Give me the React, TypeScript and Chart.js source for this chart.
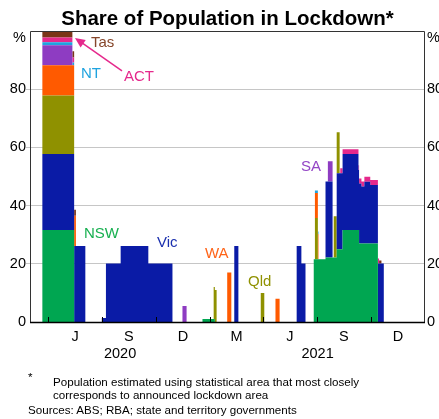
import React, { useEffect, useRef } from 'react';
import { Chart, registerables } from 'chart.js';

Chart.register(...registerables);

const FONT = "'Liberation Sans', Arial, Helvetica, sans-serif";

type Period = [string, string, number]; // [start, end (exclusive), % of national population]

const STATE_NAMES = ['NSW', 'Vic', 'Qld', 'WA', 'SA', 'NT', 'ACT', 'Tas'];
const STATE_COLORS = ['#00A651', '#0A1BA6', '#8F9100', '#FF5A00', '#8E3CC2', '#1FA3DF', '#E5298C', '#7A3517'];
const LABEL_COLORS = ['#17B050', '#1A2FAE', '#8F9100', '#FF6418', '#9446C6', '#1FA3DF', '#E5298C', '#86462A'];

const NSW_PERIODS: Period[] = [
  ['2020-03-22', '2020-05-15', 31.6],
  ['2020-12-19', '2021-01-09', 1.0],
  ['2021-06-26', '2021-07-16', 21.6],
  ['2021-07-16', '2021-08-04', 22.2],
  ['2021-08-04', '2021-08-14', 25.0],
  ['2021-08-14', '2021-09-11', 31.6],
  ['2021-09-11', '2021-10-13', 27.0],
];
const VIC_PERIODS: Period[] = [
  ['2020-03-22', '2020-06-03', 26.1],
  ['2020-07-01', '2020-07-08', 1.4],
  ['2020-07-08', '2020-08-02', 20.1],
  ['2020-08-02', '2020-09-18', 26.1],
  ['2020-09-18', '2020-10-29', 20.1],
  ['2021-02-11', '2021-02-18', 26.1],
  ['2021-05-28', '2021-06-05', 26.1],
  ['2021-06-05', '2021-06-12', 20.1],
  ['2021-07-16', '2021-07-28', 26.1],
  ['2021-08-04', '2021-09-10', 26.1],
  ['2021-09-10', '2021-09-15', 20.6],
  ['2021-09-15', '2021-09-20', 19.6],
  ['2021-09-20', '2021-09-30', 21.2],
  ['2021-09-30', '2021-10-23', 20.1],
];
const QLD_PERIODS: Period[] = [
  ['2020-03-22', '2020-05-15', 20.1],
  ['2021-01-07', '2021-01-12', 11.0],
  ['2021-03-28', '2021-04-03', 10.0],
  ['2021-06-28', '2021-07-03', 14.1],
  ['2021-07-30', '2021-08-09', 14.1],
];
const WA_PERIODS: Period[] = [
  ['2020-03-22', '2020-05-18', 10.4],
  ['2021-01-30', '2021-02-06', 17.0],
  ['2021-04-22', '2021-04-29', 8.0],
  ['2021-06-28', '2021-07-04', 8.6],
];
const SA_PERIODS: Period[] = [
  ['2020-03-22', '2020-05-12', 6.9],
  ['2020-11-15', '2020-11-22', 5.5],
  ['2021-07-20', '2021-07-28', 6.9],
];
const NT_PERIODS: Period[] = [
  ['2020-03-22', '2020-05-15', 1.0],
  ['2021-06-28', '2021-07-04', 0.9],
];
const ACT_PERIODS: Period[] = [
  ['2020-03-22', '2020-05-15', 1.7],
  ['2021-08-10', '2021-10-15', 1.7],
];
const TAS_PERIODS: Period[] = [
  ['2020-03-22', '2020-05-18', 2.1],
  ['2021-10-15', '2021-10-19', 1.0],
];

const ALL_PERIODS = [NSW_PERIODS, VIC_PERIODS, QLD_PERIODS, WA_PERIODS, SA_PERIODS, NT_PERIODS, ACT_PERIODS, TAS_PERIODS];

const AXIS_START = '2020-03-01';
const AXIS_END = '2022-01-01';
const QUARTER_BOUNDS = ['2020-04-01', '2020-07-01', '2020-10-01', '2021-01-01', '2021-04-01', '2021-07-01', '2021-10-01', '2022-01-01'];
const QUARTER_LABELS = ['J', 'S', 'D', 'M', 'J', 'S', 'D'];
const YEAR_STARTS = ['2020-03-01', '2021-01-01', '2022-01-01'];
const YEAR_LABELS = ['2020', '2021'];
const Y_TICKS = [0, 20, 40, 60, 80, 100];

const BASE = Date.UTC(2020, 0, 1);
const dayOf = (s: string) => {
  const [y, m, d] = s.split('-').map(Number);
  return Math.round((Date.UTC(y, m - 1, d) - BASE) / 86400000);
};

const X_MIN = dayOf(AXIS_START);
const X_MAX = dayOf(AXIS_END);

function valueAt(periods: Period[], x: number) {
  let v = 0;
  for (const [s, e, val] of periods) {
    if (x >= dayOf(s) && x < dayOf(e)) v += val;
  }
  return v;
}

const ANNOTATIONS: [string, number, number, string][] = [
  ['Tas', 163.6, 96.0, LABEL_COLORS[7]],
  ['NT', 146.6, 85.2, LABEL_COLORS[5]],
  ['ACT', 219.7, 84.4, LABEL_COLORS[6]],
  ['NSW', 151.7, 30.4, LABEL_COLORS[0]],
  ['Vic', 275.7, 27.1, LABEL_COLORS[1]],
  ['WA', 357.3, 23.4, LABEL_COLORS[3]],
  ['Qld', 430.3, 13.7, LABEL_COLORS[2]],
  ['SA', 520.3, 53.4, LABEL_COLORS[4]],
];

const decorPlugin = {
  id: 'decor',
  afterDatasetsDraw(chart: any) {
    const { ctx, chartArea: a, scales } = chart;
    const xs = scales.x;
    const ys = scales.y;
    ctx.save();
    ctx.strokeStyle = '#000';
    ctx.lineWidth = 1;
    QUARTER_BOUNDS.slice(0, -1).forEach((d) => {
      const px = Math.round(xs.getPixelForValue(dayOf(d))) + 0.5;
      ctx.beginPath();
      ctx.moveTo(px, a.bottom);
      ctx.lineTo(px, a.bottom - 5);
      ctx.stroke();
    });
    ctx.strokeStyle = '#333';
    ctx.lineWidth = 1;
    ctx.beginPath();
    ctx.moveTo(a.left + 0.5, a.bottom);
    ctx.lineTo(a.left + 0.5, a.top + 0.5);
    ctx.lineTo(a.right - 0.5, a.top + 0.5);
    ctx.lineTo(a.right - 0.5, a.bottom);
    ctx.stroke();
    ctx.strokeStyle = '#000';
    ctx.lineWidth = 1.5;
    ctx.beginPath();
    ctx.moveTo(a.left, a.bottom + 0.5);
    ctx.lineTo(a.right, a.bottom + 0.5);
    ctx.stroke();
    ctx.fillStyle = '#000';
    ctx.font = `14.5px ${FONT}`;
    ctx.textBaseline = 'middle';
    ctx.textAlign = 'right';
    ctx.fillText('%', a.left - 4, a.top + 7);
    ctx.textAlign = 'left';
    ctx.fillText('%', a.right + 2, a.top + 7);
    ctx.font = `15px ${FONT}`;
    ANNOTATIONS.forEach(([t, d, v, c]) => {
      ctx.fillStyle = c;
      ctx.fillText(t, xs.getPixelForValue(d), ys.getPixelForValue(v));
    });
    const x1 = xs.getPixelForValue(216.3), y1 = ys.getPixelForValue(86.3);
    const x2 = xs.getPixelForValue(136.4), y2 = ys.getPixelForValue(97.6);
    const ang = Math.atan2(y2 - y1, x2 - x1);
    ctx.strokeStyle = LABEL_COLORS[6];
    ctx.fillStyle = LABEL_COLORS[6];
    ctx.lineWidth = 1.5;
    ctx.beginPath();
    ctx.moveTo(x1, y1);
    ctx.lineTo(x2 - 6 * Math.cos(ang), y2 - 6 * Math.sin(ang));
    ctx.stroke();
    ctx.beginPath();
    ctx.moveTo(x2, y2);
    ctx.lineTo(x2 - 10 * Math.cos(ang) + 4.5 * Math.sin(ang), y2 - 10 * Math.sin(ang) - 4.5 * Math.cos(ang));
    ctx.lineTo(x2 - 10 * Math.cos(ang) - 4.5 * Math.sin(ang), y2 - 10 * Math.sin(ang) + 4.5 * Math.cos(ang));
    ctx.closePath();
    ctx.fill();
    ctx.restore();
  },
};

export default function App() {
  const ref = useRef<HTMLCanvasElement>(null);

  useEffect(() => {
    const canvas = ref.current;
    if (!canvas) return;
    Chart.defaults.font.family = FONT;
    Chart.defaults.color = '#000';

    const bset = new Set<number>([X_MIN, X_MAX]);
    ALL_PERIODS.forEach((ps) => ps.forEach(([s, e]) => { bset.add(dayOf(s)); bset.add(dayOf(e)); }));
    const xsList = Array.from(bset).sort((p, q) => p - q);

    const datasets = ALL_PERIODS.map((periods, i) => ({
      label: STATE_NAMES[i],
      data: xsList.map((x) => ({ x, y: valueAt(periods, x) })),
      backgroundColor: STATE_COLORS[i],
      borderColor: STATE_COLORS[i],
      borderWidth: 0,
      pointRadius: 0,
      pointHoverRadius: 0,
      stepped: true,
      tension: 0,
      fill: i === 0 ? 'origin' : '-1',
      xAxisID: 'x',
      yAxisID: 'y',
    }));

    const quarterMids = QUARTER_LABELS.map((_, i) => (dayOf(QUARTER_BOUNDS[i]) + dayOf(QUARTER_BOUNDS[i + 1])) / 2);
    const yearMids = YEAR_LABELS.map((_, i) => (dayOf(YEAR_STARTS[i]) + dayOf(YEAR_STARTS[i + 1])) / 2);

    const chart = new Chart(canvas, {
      type: 'line',
      data: { datasets } as any,
      options: {
        responsive: false,
        animation: false,
        events: [],
        layout: { padding: { top: 31, bottom: 55, left: 0, right: 0 } },
        plugins: {
          legend: { display: false },
          tooltip: { enabled: false },
          title: { display: false },
        },
        scales: {
          x: {
            type: 'linear',
            position: 'bottom',
            min: X_MIN,
            max: X_MAX,
            grid: { display: false, drawTicks: false },
            border: { display: false },
            afterBuildTicks: (s: any) => { s.ticks = quarterMids.map((v) => ({ value: v })); },
            afterFit: (s: any) => { s.height = 22; },
            ticks: {
              autoSkip: false,
              maxRotation: 0,
              padding: 6,
              color: '#000',
              font: { size: 14.5, family: FONT },
              callback: (_v: any, i: number) => QUARTER_LABELS[i],
            },
          },
          xYear: {
            type: 'linear',
            position: 'bottom',
            weight: 1,
            min: X_MIN,
            max: X_MAX,
            grid: { display: false, drawTicks: false },
            border: { display: false },
            afterBuildTicks: (s: any) => { s.ticks = yearMids.map((v) => ({ value: v })); },
            afterFit: (s: any) => { s.height = 20; },
            ticks: {
              autoSkip: false,
              maxRotation: 0,
              padding: 1,
              color: '#000',
              font: { size: 14.5, family: FONT },
              callback: (_v: any, i: number) => YEAR_LABELS[i],
            },
          },
          y: {
            type: 'linear',
            position: 'left',
            stacked: true,
            min: 0,
            max: 100,
            afterBuildTicks: (s: any) => { s.ticks = Y_TICKS.map((v) => ({ value: v })); },
            afterFit: (s: any) => { s.width = 30; },
            grid: {
              color: (c: any) => (c.tick && (c.tick.value === 0 || c.tick.value === 100) ? 'rgba(0,0,0,0)' : '#c6c6c6'),
              lineWidth: 1,
              drawTicks: true,
              tickLength: 4,
            },
            border: { display: false },
            ticks: {
              padding: 0,
              color: '#000',
              font: { size: 14.5, family: FONT },
              callback: (v: any) => (v === 100 ? '' : String(v)),
            },
          },
          y2: {
            type: 'linear',
            position: 'right',
            min: 0,
            max: 100,
            afterBuildTicks: (s: any) => { s.ticks = Y_TICKS.map((v) => ({ value: v })); },
            afterFit: (s: any) => { s.width = 14; },
            grid: { display: false, drawTicks: false },
            border: { display: false },
            ticks: {
              padding: 2,
              color: '#000',
              font: { size: 14.5, family: FONT },
              callback: (v: any) => (v === 100 ? '' : String(v)),
            },
          },
        },
      } as any,
      plugins: [decorPlugin],
    });
    return () => chart.destroy();
  }, []);

  const foot: React.CSSProperties = {
    position: 'absolute',
    fontFamily: FONT,
    fontSize: '11.6px',
    lineHeight: '13px',
    color: '#000',
    whiteSpace: 'nowrap',
  };

  return (
    <div style={{ position: 'absolute', left: 0, top: 0, width: 439, height: 419, background: '#fff', overflow: 'hidden' }}>
      <canvas ref={ref} width={439} height={419} style={{ position: 'absolute', left: 0, top: 0, display: 'block' }} />
      <div
        style={{
          position: 'absolute',
          left: 30,
          top: 8,
          width: 395,
          textAlign: 'center',
          fontFamily: FONT,
          fontWeight: 'bold',
          fontSize: '20.5px',
          lineHeight: '20.5px',
          color: '#000',
          whiteSpace: 'nowrap',
        }}
      >
        Share of Population in Lockdown*
      </div>
      <div style={{ ...foot, left: 28, top: 370 }}>*</div>
      <div style={{ ...foot, left: 53, top: 374.5 }}>Population estimated using statistical area that most closely</div>
      <div style={{ ...foot, left: 53, top: 387.5 }}>corresponds to announced lockdown area</div>
      <div style={{ ...foot, left: 28, top: 402.5 }}>Sources: ABS; RBA; state and territory governments</div>
    </div>
  );
}
